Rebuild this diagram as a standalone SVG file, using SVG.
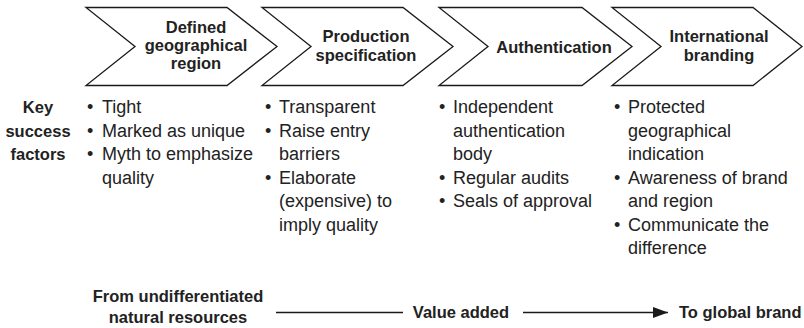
<svg xmlns="http://www.w3.org/2000/svg" width="804" height="328" viewBox="0 0 804 328">
<style>
.chev{fill:#fff;stroke:#1a1a1a;stroke-width:1.3;stroke-linejoin:miter}
.lbl{font-family:"Liberation Sans",Arial,sans-serif;font-weight:bold;font-size:16.5px;fill:#222;text-anchor:middle}
.body{font-family:"Liberation Sans",Arial,sans-serif;font-size:18px;fill:#222}
.key{font-family:"Liberation Sans",Arial,sans-serif;font-weight:bold;font-size:16.5px;fill:#222;text-anchor:middle}
.bot{font-family:"Liberation Sans",Arial,sans-serif;font-weight:bold;font-size:16.5px;fill:#222}
.ln{stroke:#1a1a1a;stroke-width:1.3;fill:none}
</style>
<defs>
<marker id="ah" markerWidth="16" markerHeight="12" refX="15" refY="5.5" orient="auto" markerUnits="userSpaceOnUse">
<path d="M0,0 L15,5.5 L0,11 Z" fill="#1a1a1a"/>
</marker>
</defs>
<rect width="804" height="328" fill="#fff"/>

<g id="stage1">
<polygon class="chev" points="86,7.5 227,7.5 277,46.5 227,85.5 86,85.5 135,46.5"/>
<text class="lbl" x="196" y="33">Defined</text>
<text class="lbl" x="196" y="51">geographical</text>
<text class="lbl" x="196" y="69">region</text>
</g>
<g id="stage2">
<polygon class="chev" points="262,7.5 403,7.5 453,46.5 403,85.5 262,85.5 311,46.5"/>
<text class="lbl" x="366" y="42">Production</text>
<text class="lbl" x="366" y="61">specification</text>
</g>
<g id="stage3">
<polygon class="chev" points="439,7.5 582,7.5 632,46.5 582,85.5 439,85.5 488,46.5"/>
<text class="lbl" x="554" y="52.5">Authentication</text>
</g>
<g id="stage4">
<polygon class="chev" points="612,7.5 753,7.5 802,46.5 753,85.5 612,85.5 661,46.5"/>
<text class="lbl" x="719" y="42">International</text>
<text class="lbl" x="719" y="61">branding</text>
</g>

<g id="key-label">
<text class="key" x="38" y="113">Key</text>
<text class="key" x="38" y="136.5">success</text>
<text class="key" x="38" y="160">factors</text>
</g>

<g id="factors1" class="body">
<text class="body" x="87" y="113">•</text><text class="body" x="102" y="113">Tight</text>
<text class="body" x="87" y="136.5">•</text><text class="body" x="102" y="136.5">Marked as unique</text>
<text class="body" x="87" y="160">•</text><text class="body" x="102" y="160">Myth to emphasize</text>
<text class="body" x="102" y="183.5">quality</text>
</g>
<g id="factors2">
<text class="body" x="265" y="113">•</text><text class="body" x="279" y="113">Transparent</text>
<text class="body" x="265" y="136.5">•</text><text class="body" x="279" y="136.5">Raise entry</text>
<text class="body" x="279" y="160">barriers</text>
<text class="body" x="265" y="183.5">•</text><text class="body" x="279" y="183.5">Elaborate</text>
<text class="body" x="279" y="207">(expensive) to</text>
<text class="body" x="279" y="230.5">imply quality</text>
</g>
<g id="factors3">
<text class="body" x="439" y="113">•</text><text class="body" x="453" y="113">Independent</text>
<text class="body" x="453" y="136.5">authentication</text>
<text class="body" x="453" y="160">body</text>
<text class="body" x="439" y="183.5">•</text><text class="body" x="453" y="183.5">Regular audits</text>
<text class="body" x="439" y="207">•</text><text class="body" x="453" y="207">Seals of approval</text>
</g>
<g id="factors4">
<text class="body" x="614" y="113">•</text><text class="body" x="628" y="113">Protected</text>
<text class="body" x="628" y="136.5">geographical</text>
<text class="body" x="628" y="160">indication</text>
<text class="body" x="614" y="183.5">•</text><text class="body" x="628" y="183.5">Awareness of brand</text>
<text class="body" x="628" y="207">and region</text>
<text class="body" x="614" y="230.5">•</text><text class="body" x="628" y="230.5">Communicate the</text>
<text class="body" x="628" y="254">difference</text>
</g>

<g id="from">
<text class="bot" x="178" y="302" text-anchor="middle">From undifferentiated</text>
<text class="bot" x="178" y="323" text-anchor="middle">natural resources</text>
</g>
<g id="value">
<text class="bot" x="461" y="318" text-anchor="middle">Value added</text>
</g>
<g id="to">
<text class="bot" x="679" y="318">To global brand</text>
</g>

<g id="connectors">
<line class="ln" x1="276" y1="312.5" x2="403" y2="312.5"/>
<line class="ln" x1="523" y1="312.5" x2="668" y2="312.5" marker-end="url(#ah)"/>
</g>
</svg>
